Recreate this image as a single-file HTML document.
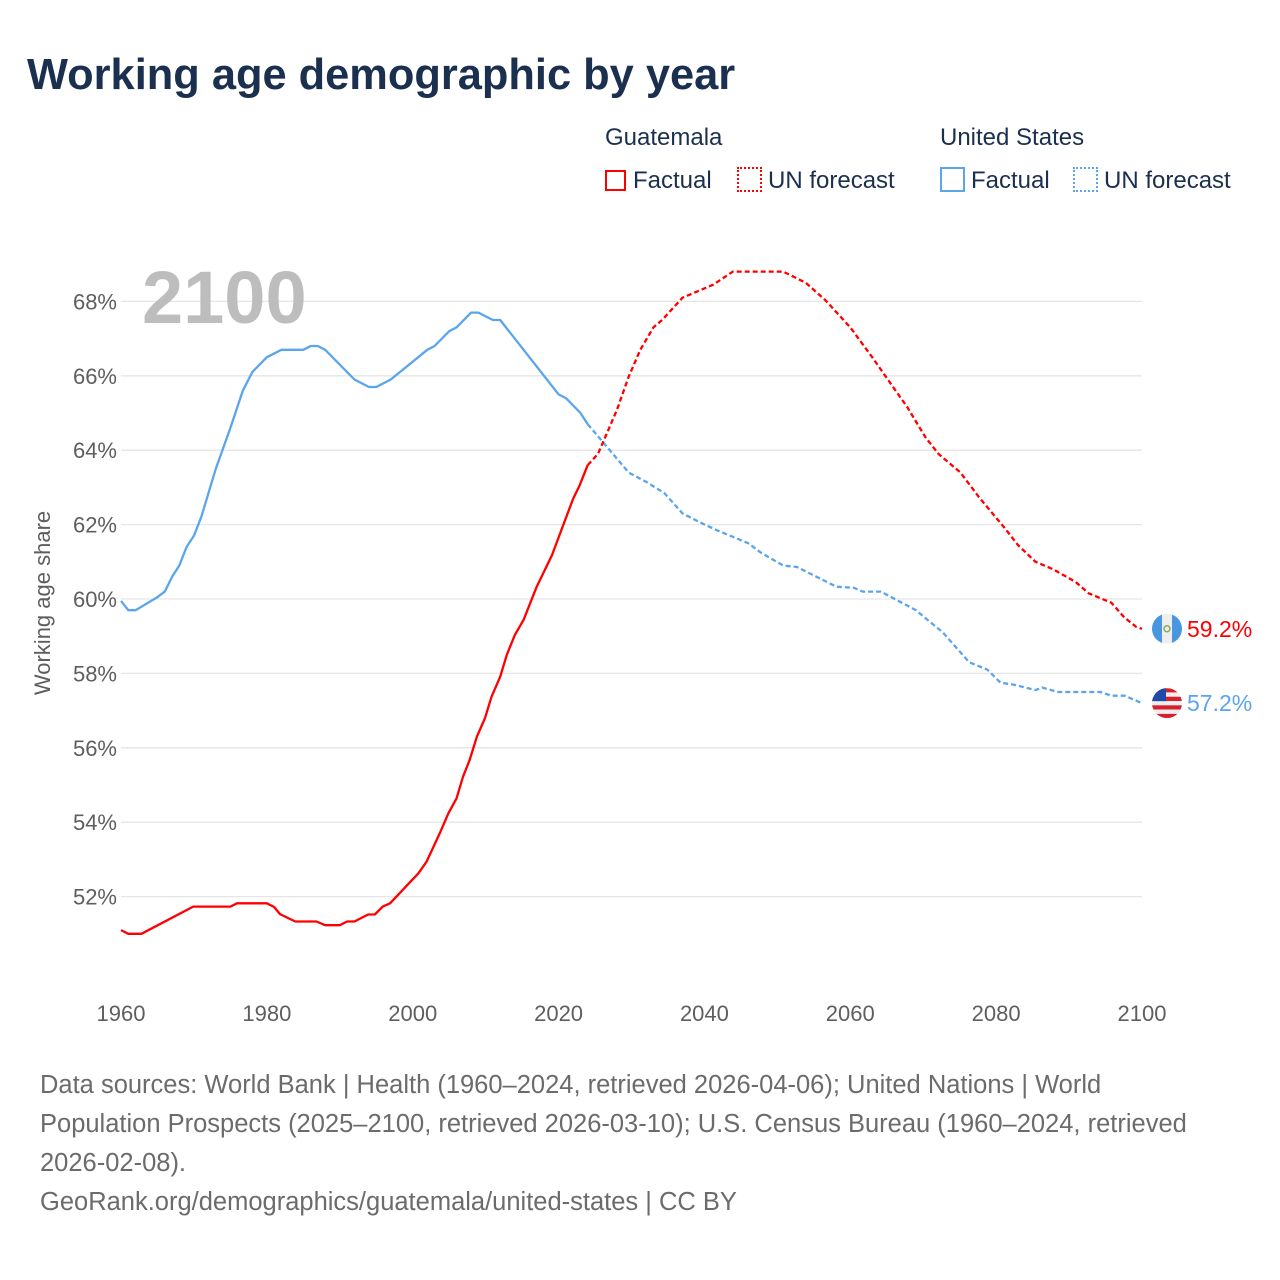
<!DOCTYPE html>
<html><head><meta charset="utf-8">
<style>
html,body{margin:0;padding:0;background:#fff;}
body{width:1280px;height:1280px;position:relative;overflow:hidden;font-family:"Liberation Sans",sans-serif;}
.t{position:absolute;white-space:nowrap;}
</style></head>
<body>
<div class="t" style="left:27px;top:51px;font-size:43.4px;font-weight:bold;color:#1b2f4e;">Working age demographic by year</div>

<div class="t" style="left:605px;top:124px;font-size:24px;color:#1b2f4e;">Guatemala</div>
<div class="t" style="left:940px;top:124px;font-size:24px;color:#1b2f4e;">United States</div>
<div class="t" style="left:605px;top:167px;font-size:24px;color:#1b2f4e;"><span style="display:inline-block;width:21px;height:21px;border:2px solid #f00;box-sizing:border-box;vertical-align:-3px;margin-right:7px;"></span>Factual</div>
<div class="t" style="left:737px;top:167px;font-size:24px;color:#1b2f4e;"><span style="display:inline-block;width:25px;height:25px;border:2px dotted #f00;box-sizing:border-box;vertical-align:-4px;margin-right:6px;"></span>UN forecast</div>
<div class="t" style="left:940px;top:167px;font-size:24px;color:#1b2f4e;"><span style="display:inline-block;width:25px;height:25px;border:2px solid #5aa5ec;box-sizing:border-box;vertical-align:-4px;margin-right:6px;"></span>Factual</div>
<div class="t" style="left:1073px;top:167px;font-size:24px;color:#1b2f4e;"><span style="display:inline-block;width:25px;height:25px;border:2px dotted #5aa5ec;box-sizing:border-box;vertical-align:-4px;margin-right:6px;"></span>UN forecast</div>

<svg id="chart" width="1280" height="1280" style="position:absolute;left:0;top:0;" xmlns="http://www.w3.org/2000/svg"></svg>

<div class="t" style="left:40px;top:1066px;font-size:25.5px;line-height:39px;color:#6b6b6b;">Data sources: World Bank | Health (1960–2024, retrieved 2026-04-06); United Nations | World<br>Population Prospects (2025–2100, retrieved 2026-03-10); U.S. Census Bureau (1960–2024, retrieved<br>2026-02-08).<br>GeoRank.org/demographics/guatemala/united-states | CC BY</div>

<script>
const yTicks = [52,54,56,58,60,62,64,66,68];
const xTicks = [1960,1980,2000,2020,2040,2060,2080,2100];
const gtFactYears = [1960,1961,1962.8,1969.9,1975,1975.9,1980,1981,1981.8,1983.9,1986.8,1988,1990,1991,1992,1993.9,1994.8,1995.9,1996.9,2000.8,2001.9,2003.7,2004.9,2006,2006.9,2007.8,2008.8,2009.9,2010.8,2012,2012.9,2014,2015.2,2017,2019.1,2020.9,2022,2022.9,2024];
const gtFactValues = [51.1,51.0,51.0,51.73,51.73,51.82,51.82,51.72,51.53,51.33,51.33,51.23,51.23,51.33,51.33,51.52,51.52,51.73,51.82,52.63,52.94,53.7,54.24,54.64,55.22,55.67,56.3,56.79,57.37,57.91,58.5,59.03,59.44,60.33,61.18,62.12,62.7,63.06,63.6];
const gtFcYears = [2024,2025.4,2028,2029.6,2031.2,2033,2034.2,2037,2041.2,2043.9,2050.8,2053.9,2056.6,2060,2063,2065.5,2067.8,2070.3,2072.1,2075.1,2077.6,2081.2,2083,2085.4,2087.8,2090.9,2092.7,2095.8,2097.6,2099.2,2100];
const gtFcValues = [63.6,63.9,65.08,65.97,66.7,67.3,67.5,68.1,68.45,68.8,68.8,68.5,68.03,67.3,66.5,65.8,65.16,64.35,63.9,63.4,62.75,61.9,61.45,61.0,60.8,60.46,60.15,59.9,59.5,59.25,59.2];
const usFactYears = [1960,1961,1962,1965,1966,1967,1968,1969,1970,1971,1973,1975,1976.7,1978,1979,1980,1982,1985,1986,1987,1988,1992,1994,1995,1997,2002,2003,2005,2006,2008,2009,2011,2012,2020,2021,2023,2024];
const usFactValues = [59.95,59.7,59.7,60.05,60.2,60.6,60.9,61.4,61.7,62.2,63.5,64.6,65.6,66.1,66.3,66.5,66.7,66.7,66.8,66.8,66.7,65.9,65.7,65.7,65.9,66.7,66.8,67.2,67.3,67.7,67.7,67.5,67.5,65.5,65.4,65.0,64.7];
const usFcYears = [2024,2026.6,2029.6,2032,2034.5,2037,2039.3,2041.7,2046,2047.8,2050.8,2052.7,2058.1,2060.5,2061.7,2064.2,2069,2072.7,2076.3,2078.8,2080.6,2082.4,2085.4,2086.3,2088.5,2094.3,2095.8,2097.6,2098.8,2100];
const usFcValues = [64.7,64.1,63.4,63.15,62.85,62.3,62.07,61.85,61.5,61.24,60.9,60.86,60.33,60.3,60.2,60.2,59.7,59.1,58.3,58.1,57.75,57.7,57.55,57.62,57.5,57.5,57.4,57.4,57.3,57.2];
const endLabels = ["59.2%","57.2%"];

const NS="http://www.w3.org/2000/svg";
const svg=document.getElementById('chart');
const X0=121,X1=1142;
function xs(y){return X0+(y-1960)*(X1-X0)/140;}
function ys(v){return 599-(v-60)*37.2;}
function mk(tag,attrs){const e=document.createElementNS(NS,tag);for(const k in attrs)e.setAttribute(k,attrs[k]);svg.appendChild(e);return e;}

yTicks.forEach(v=>{
  const g=mk('line',{x1:X0,x2:X1,y1:ys(v),y2:ys(v),stroke:'#e6e6e6','stroke-width':1.3});
  
  
  const t=mk('text',{x:117,y:ys(v)+8,'text-anchor':'end','font-size':22,fill:'#5e5e5e','font-family':'Liberation Sans, sans-serif'});
  t.textContent=v+'%';
  
  
});
xTicks.forEach(y=>{
  const t=mk('text',{x:xs(y),y:1021,'text-anchor':'middle','font-size':22,fill:'#5e5e5e','font-family':'Liberation Sans, sans-serif'});
  t.textContent=y;
  
  
});
const yt=mk('text',{x:0,y:0,transform:'translate(50,603) rotate(-90)','text-anchor':'middle','font-size':22,fill:'#5e5e5e','font-family':'Liberation Sans, sans-serif'});
yt.textContent='Working age share';



const big=mk('text',{x:142,y:323,'font-size':74,'font-weight':'bold',fill:'#bdbdbd','font-family':'Liberation Sans, sans-serif'});
big.textContent='2100';



function line(years,vals,color,dash,name){
  const d=years.map((y,i)=>(i?'L':'M')+xs(y).toFixed(1)+' '+ys(vals[i]).toFixed(1)).join(' ');
  const p=mk('path',{d:d,fill:'none',stroke:color,'stroke-width':2.3,'stroke-linejoin':'round'});
  if(dash)p.setAttribute('stroke-dasharray','5 3');
  
  
}
line(usFactYears,usFactValues,'#5aa5ec',false,'us-factual-line');
line(gtFactYears,gtFactValues,'#ff0000',false,'guatemala-factual-line');
line(usFcYears,usFcValues,'#5aa5ec',true,'us-forecast-line');
line(gtFcYears,gtFcValues,'#ff0000',true,'guatemala-forecast-line');

const gy=ys(gtFcValues[gtFcValues.length-1]), uy=ys(usFcValues[usFcValues.length-1]);
const cx=1167;
const defs=mk('defs',{});
const cp=document.createElementNS(NS,'clipPath');cp.setAttribute('id','c1');
const cc=document.createElementNS(NS,'circle');cc.setAttribute('cx',cx);cc.setAttribute('cy',gy);cc.setAttribute('r',15);cp.appendChild(cc);defs.appendChild(cp);
const cp2=document.createElementNS(NS,'clipPath');cp2.setAttribute('id','c2');
const cc2=document.createElementNS(NS,'circle');cc2.setAttribute('cx',cx);cc2.setAttribute('cy',uy);cc2.setAttribute('r',15);cp2.appendChild(cc2);defs.appendChild(cp2);
const gf=mk('g',{'clip-path':'url(#c1)'});


[['#4997e0',cx-15],['#eeeeee',cx-5],['#4997e0',cx+5]].forEach(a=>{const r=document.createElementNS(NS,'rect');r.setAttribute('x',a[1]);r.setAttribute('y',gy-15);r.setAttribute('width',10);r.setAttribute('height',30);r.setAttribute('fill',a[0]);gf.appendChild(r);});
const em=document.createElementNS(NS,'circle');em.setAttribute('cx',cx);em.setAttribute('cy',gy);em.setAttribute('r',3);em.setAttribute('fill','none');em.setAttribute('stroke','#8aa860');em.setAttribute('stroke-width',1.5);gf.appendChild(em);
const uf=mk('g',{'clip-path':'url(#c2)'});


for(let i=0;i<7;i++){const r=document.createElementNS(NS,'rect');r.setAttribute('x',cx-15);r.setAttribute('y',uy-15+i*30/7);r.setAttribute('width',30);r.setAttribute('height',30/7);r.setAttribute('fill',i%2?'#eee':'#d8202c');uf.appendChild(r);}
const cant=document.createElementNS(NS,'rect');cant.setAttribute('x',cx-15);cant.setAttribute('y',uy-15);cant.setAttribute('width',14);cant.setAttribute('height',13);cant.setAttribute('fill','#1f4aa8');uf.appendChild(cant);

const l1=mk('text',{x:1187,y:gy+8,'font-size':23,fill:'#ff0000','font-family':'Liberation Sans, sans-serif'});
l1.textContent=endLabels[0];


const l2=mk('text',{x:1187,y:uy+8,'font-size':23,fill:'#5aa5ec','font-family':'Liberation Sans, sans-serif'});
l2.textContent=endLabels[1];


</script>
</body></html>
